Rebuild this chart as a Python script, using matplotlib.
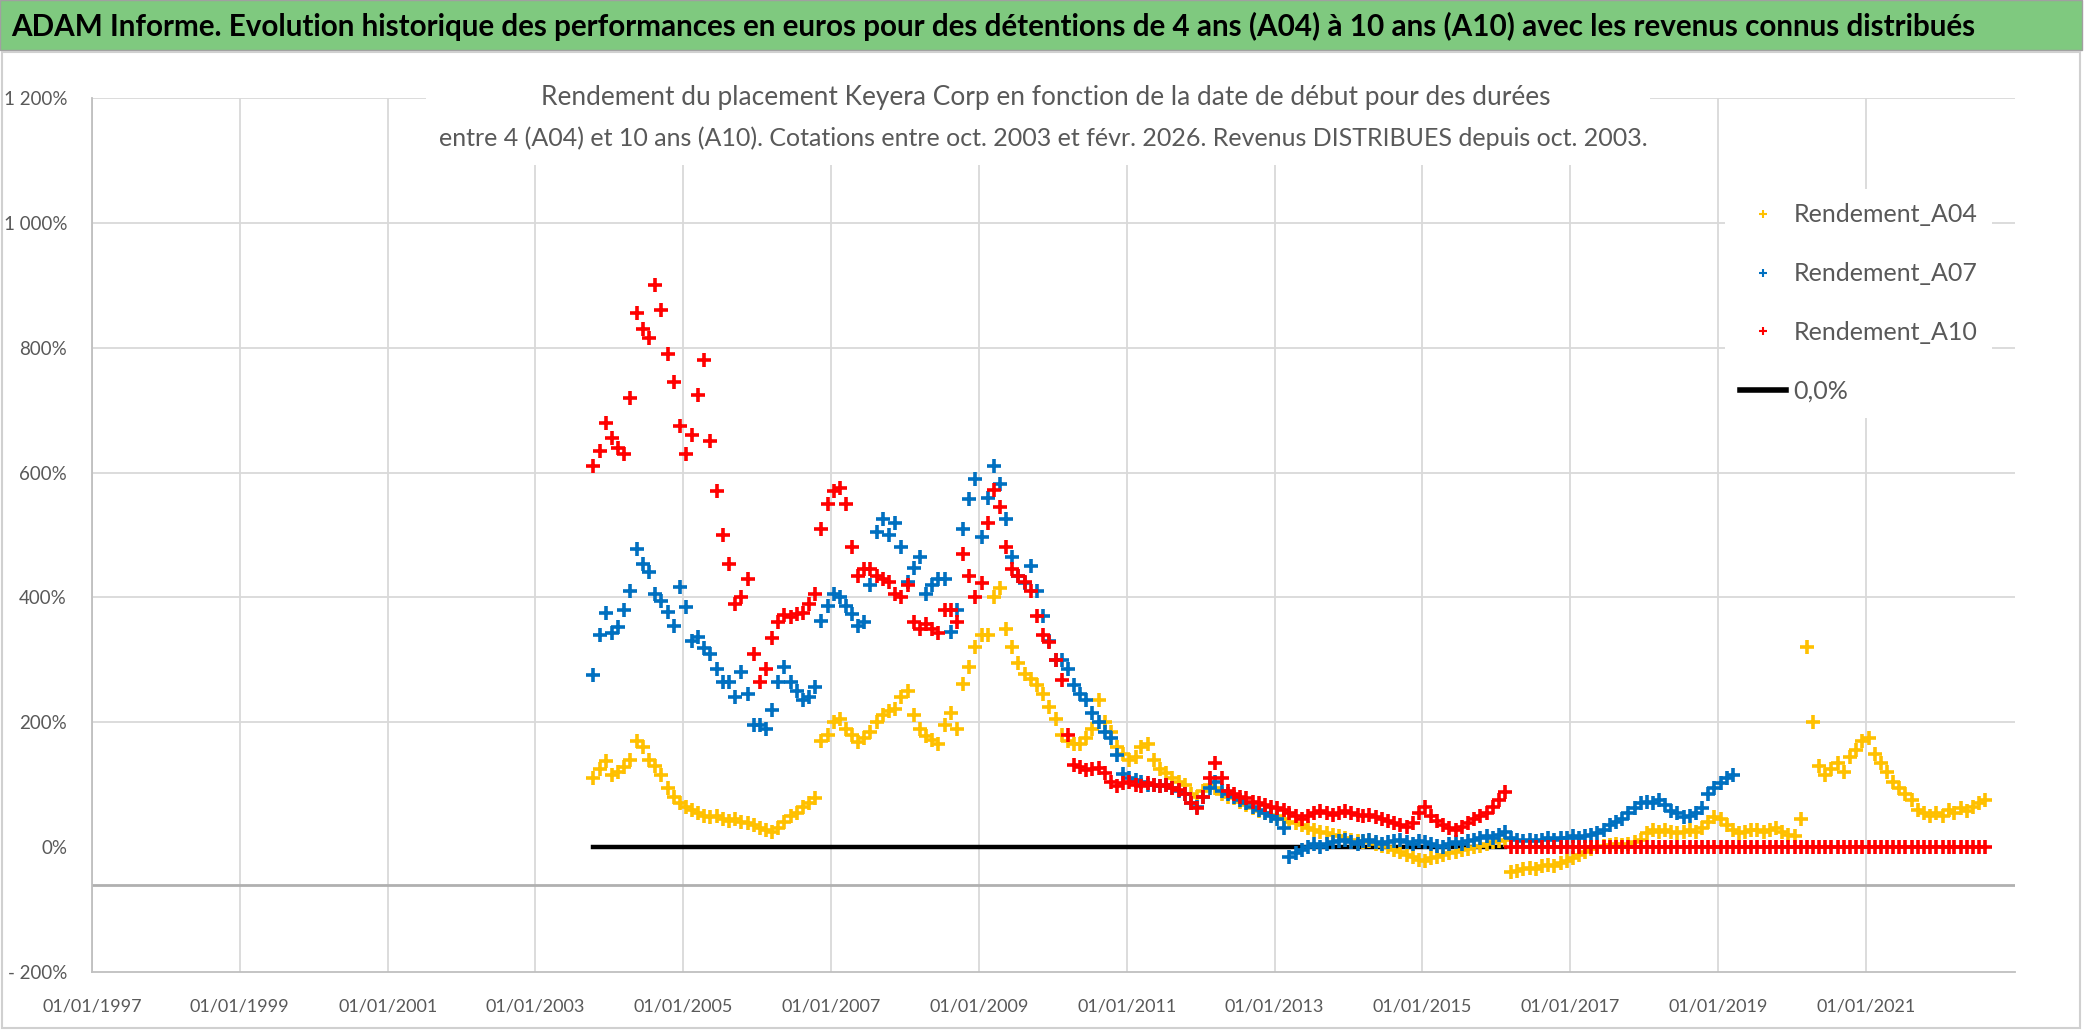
import numpy as np
import pandas as pd
import matplotlib
matplotlib.use("Agg")
import matplotlib.pyplot as plt
import matplotlib.dates as mdates
from matplotlib.lines import Line2D
from matplotlib.patches import Rectangle
from matplotlib.ticker import FuncFormatter, MultipleLocator

plt.rcParams['font.family'] = ['Lato', 'DejaVu Sans']

# monthly readings (%), first value = oct. 2003
a04_values = [
    110, 125, 138, 115, 120, 128, 140, 170, 160, 140, 130, 115,
    95, 80, 70, 65, 60, 55, 50, 48, 50, 45, 42, 45,
    40, 38, 35, 30, 28, 25, 30, 40, 50, 55, 65, 70,
    78, 170, 180, 200, 205, 190, 180, 168, 175, 185, 200, 212,
    218, 222, 240, 250, 212, 190, 178, 172, 166, 195, 215, 190,
    262, 288, 320, 340, 340, 400, 415, 350, 320, 295, 278, 270,
    260, 245, 225, 205, 180, 170, 166, 166, 175, 190, 235, 200,
    185, 160, 150, 140, 145, 160, 166, 140, 125, 118, 110, 105,
    100, 85, 80, 90, 100, 95, 85, 80, 78, 72, 68, 62,
    58, 55, 52, 50, 45, 40, 38, 35, 30, 28, 25, 22,
    20, 18, 15, 12, 10, 8, 10, 5, 2, 0, -5, -8,
    -12, -15, -20, -22, -18, -15, -12, -10, -8, -5, -3, 0,
    2, 5, 8, 10, 12, -40, -38, -35, -33, -35, -30, -28,
    -30, -25, -22, -18, -12, -8, -3, 0, 2, 3, 5, 3,
    5, 8, 12, 22, 28, 25, 27, 25, 22, 25, 27, 25,
    30, 40, 48, 45, 35, 28, 22, 25, 28, 27, 25, 28,
    30, 25, 20, 18, 45, 320, 200, 130, 115, 125, 135, 120,
    145, 155, 170, 175, 150, 135, 120, 105, 95, 85, 75, 60,
    55, 50, 55, 50, 60, 55, 62, 58, 65, 70, 75,
]

a07_values = [
    276, 340, 375, 343, 352, 380, 410, 478, 454, 440, 405, 395,
    376, 355, 417, 385, 330, 337, 319, 310, 285, 265, 264, 240,
    280, 245, 195, 196, 190, 220, 265, 288, 264, 250, 235, 240,
    257, 362, 386, 405, 400, 386, 374, 355, 360, 420, 505, 525,
    500, 520, 480, 425, 447, 465, 405, 420, 429, 430, 345, 380,
    510, 558, 590, 496, 560, 610, 582, 525, 465, 435, 423, 450,
    410, 370, 330, 300, 300, 285, 260, 245, 235, 215, 200, 185,
    175, 147, 117, 110, 108, 105, 100, 100, 98, 100, 95, 90,
    85, 70, 65, 80, 95, 105, 90, 85, 80, 75, 70, 65,
    60, 55, 50, 45, 30, -15, -10, -5, 0, 5, 0, 5,
    8, 10, 12, 8, 5, 10, 12, 8, 5, 8, 10, 12,
    8, 5, 10, 8, 5, 2, 0, 5, 8, 5, 10, 12,
    15, 18, 15, 20, 25, 15, 12, 10, 12, 10, 12, 15,
    12, 15, 15, 18, 15, 18, 20, 22, 28, 35, 40, 45,
    55, 62, 70, 72, 70, 75, 68, 58, 55, 48, 50, 55,
    62, 85, 95, 102, 110, 115,
]

a10_values = [
    610, 635, 680, 656, 640, 630, 720, 855, 830, 815, 900, 860,
    790, 745, 675, 630, 660, 725, 780, 650, 570, 500, 454, 390,
    400, 430, 310, 264, 285, 335, 360, 372, 368, 374, 375, 390,
    405, 509, 550, 570, 575, 550, 480, 435, 445, 445, 435, 430,
    425, 405, 400, 420, 360, 350, 358, 350, 343, 380, 380, 360,
    470, 435, 400, 423, 520, 572, 545, 480, 445, 435, 425, 410,
    370, 340, 328, 300, 268, 180, 132, 128, 123, 125, 127, 118,
    105, 98, 102, 104, 100, 98, 102, 100, 98, 100, 95, 92,
    85, 70, 62, 80, 110, 135, 110, 90, 85, 80, 78, 72,
    70, 68, 65, 62, 60, 55, 50, 45, 50, 55, 58, 55,
    52, 55, 58, 55, 52, 50, 52, 48, 45, 42, 38, 35,
    32, 38, 55, 65, 50, 42, 35, 30, 28, 32, 38, 45,
    50, 55, 65, 75, 88, 0, 0, 0, 0, 0, 0, 0,
    0, 0, 0, 0, 0, 0, 0, 0, 0, 0, 0, 0,
    0, 0, 0, 0, 0, 0, 0, 0, 0, 0, 0, 0,
    0, 0, 0, 0, 0, 0, 0, 0, 0, 0, 0, 0,
    0, 0, 0, 0, 0, 0, 0, 0, 0, 0, 0, 0,
    0, 0, 0, 0, 0, 0, 0, 0, 0, 0, 0, 0,
    0, 0, 0, 0, 0, 0, 0, 0, 0, 0, 0,
]

zero_dates = ['2003-10-15', '2016-02-15']
zero_values = [0, 0]

series_names = ['Rendement_A04', 'Rendement_A07', 'Rendement_A10']
series_colors = ['#FFC000', '#0070C0', '#FF0000']
y_grid = [200, 400, 600, 800, 1000, 1200]

title = ("ADAM Informe. Evolution historique des performances en euros pour des "
         "détentions de 4 ans (A04) à 10 ans (A10) avec les revenus connus distribués")
sub1 = "Rendement du placement Keyera Corp en fonction de la date de début pour des durées"
sub2 = ("entre 4 (A04) et 10 ans (A10). Cotations entre oct. 2003 et févr. 2026. "
        "Revenus DISTRIBUES depuis oct. 2003.")

W, H = 2086, 1031
fig = plt.figure(figsize=(W / 100, H / 100), dpi=100)
fig.patch.set_facecolor('white')


def months(n):
    return pd.date_range('2003-10-01', periods=n, freq='MS') + pd.Timedelta(days=14)


ax = fig.add_axes([92 / W, 1 - 972 / H, (2015 - 92) / W, (972 - 98) / H])
grey = '#595959'
for vals, name, col in zip([a04_values, a07_values, a10_values], series_names, series_colors):
    ax.plot(months(len(vals)), vals, ls='none', marker='+', ms=10, mew=2.6,
            color=col, label=name, zorder=3)
ax.plot(pd.to_datetime(zero_dates), zero_values, color='black', lw=3.2, zorder=2.5)

ax.set_ylim(-200, 1200)
ax.yaxis.set_major_locator(MultipleLocator(200))
ax.yaxis.set_major_formatter(FuncFormatter(
    lambda v, p: ('- ' if v < 0 else '') + f"{abs(int(v)):,}".replace(',', ' ') + '%'))
ax.set_xlim(pd.Timestamp('1997-01-01'), pd.Timestamp('2023-01-08'))
ax.set_xticks(pd.to_datetime([f'{y}-01-01' for y in range(1997, 2022, 2)]))
ax.xaxis.set_major_formatter(mdates.DateFormatter('%d/%m/%Y'))
ax.tick_params(length=0, labelsize=13, colors=grey)
ax.tick_params(axis='y', labelsize=13.5, pad=18)
ax.tick_params(axis='x', pad=19)
ax.grid(True, axis='x', color='#d9d9d9', lw=1.3, zorder=0)
for g in y_grid:
    ax.axhline(g, color='#d9d9d9', lw=1.3, zorder=0)
ax.set_axisbelow(True)
for s in ['top', 'right']:
    ax.spines[s].set_visible(False)
for s in ['left', 'bottom']:
    ax.spines[s].set_color('#bfbfbf')
    ax.spines[s].set_linewidth(1.3)
ax.axhline(-60, color='#b0b0b0', lw=2.0, zorder=1)

# subtitle white box
fig.patches.append(Rectangle((426 / W, 1 - 165 / H), (1650 - 426) / W, 85 / H,
                             transform=fig.transFigure, facecolor='white',
                             edgecolor='none', zorder=1))

# title bar and chart frame
fig.patches.append(Rectangle((0, 1 - 50 / H), 2082 / W, 50 / H, transform=fig.transFigure,
                             facecolor='#7FC97F', edgecolor='#a0a0a0', lw=1, zorder=1))
fig.patches.append(Rectangle((2 / W, 3 / H), 2078 / W, (1031 - 55) / H,
                             transform=fig.transFigure, facecolor='none',
                             edgecolor='#d0d0d0', lw=1.5, zorder=1))

t = fig.text(11 / W, 1 - 26 / H, title, fontsize=24, fontweight='bold',
             color='black', ha='left', va='center')
s1 = fig.text(1046 / W, 1 - 97 / H, sub1, fontsize=18, color=grey, ha='center', va='center')
s2 = fig.text(1043 / W, 1 - 138 / H, sub2, fontsize=18, color=grey, ha='center', va='center')

r = fig.canvas.get_renderer()
for txt, target in [(t, 1967), (s1, 1005), (s2, 1208)]:
    bw = txt.get_window_extent(r).width
    txt.set_fontsize(txt.get_fontsize() * target / bw)

handles = [Line2D([], [], ls='none', marker='+', ms=6, mew=1.5, color=c) for c in series_colors]
handles.append(Line2D([], [], color='black', lw=4))
leg = ax.legend(handles, series_names + ['0,0%'], loc='upper left',
                bbox_to_anchor=(1712 / W, 1 - 176 / H), bbox_transform=fig.transFigure,
                frameon=True, facecolor='white', edgecolor='none', framealpha=1,
                fontsize=18, labelspacing=1.43, handlelength=1.85, handletextpad=0.3,
                borderpad=0.6)
for tx in leg.get_texts():
    tx.set_color(grey)
leg.set_zorder(5)

fig.savefig('out.png', dpi=100)
